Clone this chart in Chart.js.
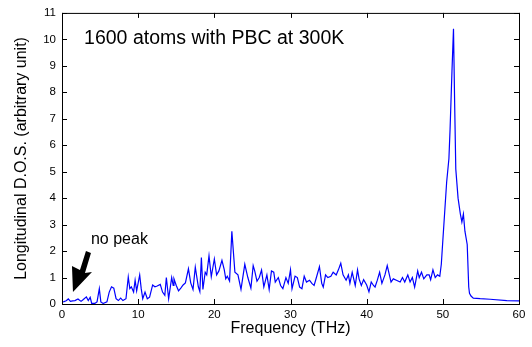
<!DOCTYPE html>
<html>
<head>
<meta charset="utf-8">
<script src="https://cdn.jsdelivr.net/npm/chart.js@4.4.1/dist/chart.umd.min.js"></script>
<style>
  html, body { margin: 0; padding: 0; background: #ffffff; }
  #wrap { width: 532px; height: 347px; }
</style>
</head>
<body>
<div id="wrap"><canvas id="dosChart" width="532" height="347"></canvas></div>
<script>
// Frequency (THz) of each read point
var freq = [
    0.0, 0.26, 0.55, 0.83, 1.1, 1.4, 1.7, 2.1, 2.5, 2.8, 3.2, 3.45, 3.7, 3.9, 4.3, 4.6, 4.9, 5.1, 5.4, 5.9,
    6.2, 6.5, 6.8, 7.1, 7.4, 7.7, 8.0, 8.4, 8.7, 8.9, 9.1, 9.4, 9.6, 9.8, 10.2, 10.4, 10.6, 10.9, 11.2, 11.5,
    11.9, 12.2, 12.5, 12.9, 13.2, 13.5, 13.7, 14.0, 14.2, 14.4, 14.6, 14.7, 15.0, 15.3, 15.6, 15.9, 16.2, 16.6, 16.9, 17.2,
    17.5, 17.9, 18.1, 18.3, 18.5, 18.8, 19.0, 19.3, 19.6, 20.0, 20.3, 20.6, 21.0, 21.3, 21.5, 21.7, 22.0, 22.3, 22.7, 23.1,
    23.5, 24.0, 24.4, 24.8, 25.1, 25.3, 25.6, 25.9, 26.2, 26.5, 26.9, 27.2, 27.5, 27.8, 28.0, 28.4, 28.7, 29.0, 29.4, 29.7,
    30.0, 30.2, 30.6, 30.9, 31.2, 31.5, 31.8, 32.1, 32.5, 32.8, 33.1, 33.4, 33.8, 34.1, 34.3, 34.6, 34.9, 35.3, 35.6, 36.0,
    36.3, 36.6, 36.9, 37.3, 37.6, 37.8, 38.1, 38.5, 38.8, 39.0, 39.3, 39.6, 40.0, 40.3, 40.6, 40.9, 41.1, 41.4, 41.7, 42.0,
    42.4, 42.7, 43.2, 43.5, 43.9, 44.4, 44.7, 45.0, 45.4, 45.7, 46.0, 46.3, 46.7, 46.9, 47.2, 47.5, 47.9, 48.2, 48.4, 48.7,
    49.0, 49.3, 49.6, 49.8, 50.0, 50.5, 50.8, 50.95, 51.2, 51.4, 51.55, 51.7, 52.0, 52.3, 52.5, 52.7, 52.9, 53.2, 53.4, 53.5,
    53.7, 54.0, 54.9, 56.2, 58.4, 60.0
];

// Longitudinal D.O.S. (arbitrary unit) at those frequencies
var dos = [
    0.08, 0.09, 0.12, 0.19, 0.10, 0.12, 0.13, 0.19, 0.10, 0.17, 0.27, 0.13, 0.25, 0.02, 0.02, 0.08, 0.58, 0.08, 0.02, 0.08,
    0.45, 0.65, 0.60, 0.20, 0.13, 0.22, 0.13, 0.20, 1.02, 0.58, 0.65, 0.45, 0.90, 0.50, 1.10, 0.58, 0.20, 0.45, 0.20, 0.26,
    0.72, 0.65, 0.68, 0.74, 0.45, 0.33, 1.00, 0.20, 0.60, 1.00, 0.70, 0.95, 0.70, 0.50, 0.60, 0.72, 0.80, 1.33, 0.80, 0.55,
    1.39, 0.65, 0.47, 1.76, 0.55, 1.20, 1.10, 1.82, 1.03, 1.70, 1.10, 1.25, 1.65, 1.30, 0.95, 1.05, 0.87, 2.75, 1.20, 1.10,
    0.55, 1.50, 1.00, 0.60, 1.45, 1.25, 0.86, 1.00, 1.28, 0.65, 1.10, 0.55, 1.25, 1.20, 0.83, 1.00, 0.70, 0.58, 1.00, 0.78,
    1.29, 0.58, 1.05, 1.00, 0.64, 0.58, 1.05, 0.83, 0.90, 0.78, 0.70, 1.00, 1.41, 0.78, 0.64, 1.10, 1.00, 1.05, 1.20, 1.10,
    1.30, 1.54, 1.10, 0.90, 1.10, 0.78, 1.20, 0.70, 1.29, 0.95, 0.70, 0.92, 0.72, 0.46, 0.83, 0.70, 0.64, 0.90, 1.20, 0.78,
    1.10, 1.45, 0.83, 0.95, 0.90, 0.83, 1.00, 0.83, 1.10, 0.83, 1.00, 0.64, 1.25, 1.00, 1.20, 0.95, 1.10, 1.10, 0.92, 1.29,
    1.00, 1.10, 1.05, 1.50, 2.40, 4.60, 5.50, 6.60, 8.80, 10.40, 7.60, 5.10, 4.00, 3.40, 3.10, 3.40, 2.75, 2.25, 0.64, 0.40,
    0.30, 0.22, 0.20, 0.18, 0.13, 0.12
];

// Tick values of the axes
var xTicks = [0, 10, 20, 30, 40, 50, 60];
var yTicks = [0, 1, 2, 3, 4, 5, 6, 7, 8, 9, 10, 11];

var fontName = '"Liberation Sans", Arial, sans-serif';

// Frame with inward ticks and the texts inside the plot
var framePlugin = {
    id: 'frame',
    afterDraw: function (chart) {
        var ctx = chart.ctx;
        var a = chart.chartArea;
        var xs = chart.scales.x;
        var ys = chart.scales.y;
        var t = 5;
        ctx.save();
        ctx.strokeStyle = '#000000';
        ctx.lineWidth = 1;
        ctx.strokeRect(a.left + 0.5, a.top + 0.5, a.right - a.left, a.bottom - a.top);
        ctx.beginPath();
        xTicks.forEach(function (v) {
            var px = Math.round(xs.getPixelForValue(v)) + 0.5;
            ctx.moveTo(px, a.bottom); ctx.lineTo(px, a.bottom - t);
            ctx.moveTo(px, a.top); ctx.lineTo(px, a.top + t);
        });
        yTicks.forEach(function (v) {
            var py = Math.round(ys.getPixelForValue(v)) + 0.5;
            ctx.moveTo(a.left, py); ctx.lineTo(a.left + t, py);
            ctx.moveTo(a.right, py); ctx.lineTo(a.right - t, py);
        });
        ctx.stroke();

        // Texts
        ctx.fillStyle = '#000000';
        ctx.textBaseline = 'middle';
        ctx.textAlign = 'left';
        ctx.font = '19.5px ' + fontName;
        ctx.fillText('1600 atoms with PBC at 300K', xs.getPixelForValue(2.9), ys.getPixelForValue(10.04));
        ctx.font = '16px ' + fontName;
        ctx.fillText('no peak', xs.getPixelForValue(3.8), ys.getPixelForValue(2.45));

        // Arrow pointing at the low frequency part
        var tipX = xs.getPixelForValue(1.44), tipY = ys.getPixelForValue(0.45);
        ctx.beginPath();
        ctx.moveTo(tipX, tipY);
        ctx.lineTo(tipX - 1, tipY - 26);
        ctx.lineTo(tipX + 7, tipY - 22);
        ctx.lineTo(tipX + 13, tipY - 41);
        ctx.lineTo(tipX + 18, tipY - 39);
        ctx.lineTo(tipX + 12, tipY - 19);
        ctx.lineTo(tipX + 19, tipY - 20);
        ctx.closePath();
        ctx.fill();
        ctx.restore();
    }
};

var points = freq.map(function (f, i) { return { x: f, y: dos[i] }; });

var ctx = document.getElementById('dosChart').getContext('2d');
var chart = new Chart(ctx, {
    type: 'line',
    data: {
        datasets: [{
            data: points,
            borderColor: '#0000ff',
            borderWidth: 1.2,
            pointRadius: 0,
            tension: 0,
            fill: false
        }]
    },
    options: {
        responsive: false,
        maintainAspectRatio: false,
        animation: false,
        layout: { padding: { left: 0, right: 13, top: 8, bottom: 0 } },
        plugins: {
            legend: { display: false },
            tooltip: { enabled: false }
        },
        scales: {
            x: {
                type: 'linear',
                min: 0,
                max: 60,
                afterBuildTicks: function (scale) { scale.ticks = xTicks.map(function (v) { return { value: v }; }); },
                afterFit: function (scale) { scale.height = 43; },
                ticks: { color: '#000000', font: { family: fontName, size: 11.5 }, padding: 4, maxRotation: 0 },
                grid: { display: false, drawTicks: false },
                border: { display: false },
                title: {
                    display: true,
                    text: 'Frequency (THz)',
                    color: '#000000',
                    font: { family: fontName, size: 16 },
                    padding: { top: 0, bottom: 9 }
                }
            },
            y: {
                type: 'linear',
                min: 0,
                max: 11,
                afterBuildTicks: function (scale) { scale.ticks = yTicks.map(function (v) { return { value: v }; }); },
                afterFit: function (scale) { scale.width = 62; },
                ticks: { color: '#000000', font: { family: fontName, size: 11.5 }, padding: 6 },
                grid: { display: false, drawTicks: false },
                border: { display: false },
                title: {
                    display: true,
                    text: 'Longitudinal D.O.S. (arbitrary unit)',
                    color: '#000000',
                    font: { family: fontName, size: 16 },
                    padding: { top: 12, bottom: 0 }
                }
            }
        }
    },
    plugins: [framePlugin]
});
</script>
</body>
</html>
